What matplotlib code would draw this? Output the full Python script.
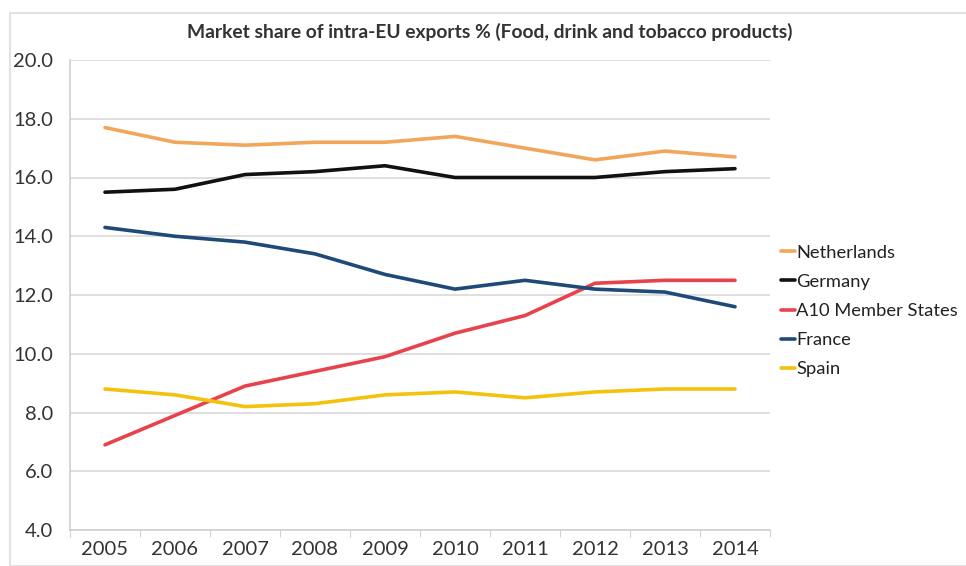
import numpy as np
import matplotlib.pyplot as plt
from matplotlib.patches import Rectangle

plt.rcParams['font.family'] = ['Lato', 'DejaVu Sans']

years = ['2005', '2006', '2007', '2008', '2009', '2010', '2011', '2012', '2013', '2014']
netherlands = [17.7, 17.2, 17.1, 17.2, 17.2, 17.4, 17.0, 16.6, 16.9, 16.7]
germany = [15.5, 15.6, 16.1, 16.2, 16.4, 16.0, 16.0, 16.0, 16.2, 16.3]
a10 = [6.9, 7.9, 8.9, 9.4, 9.9, 10.7, 11.3, 12.4, 12.5, 12.5]
france = [14.3, 14.0, 13.8, 13.4, 12.7, 12.2, 12.5, 12.2, 12.1, 11.6]
spain = [8.8, 8.6, 8.2, 8.3, 8.6, 8.7, 8.5, 8.7, 8.8, 8.8]

series = [
    ('Netherlands', netherlands, '#f2a65a'),
    ('Germany', germany, '#111111'),
    ('A10 Member States', a10, '#e8434c'),
    ('France', france, '#1f4a78'),
    ('Spain', spain, '#f4c20d'),
]

fig = plt.figure(figsize=(9.66, 5.66), dpi=100)
ax = fig.add_axes([70/966, 1 - 530/566, 700/966, 470/566])

x = np.arange(len(years))
for name, vals, col in series:
    ax.plot(x, vals, color=col, lw=2.6, label=name, solid_capstyle='round')

ax.set_xlim(-0.5, len(years) - 0.5)
ax.set_ylim(4, 20)
ax.set_yticks(np.arange(4, 20.1, 2))
ax.set_yticklabels(['%.1f' % v for v in np.arange(4, 20.1, 2)])
ax.set_xticks(x)
ax.set_xticklabels(years)
ax.set_xticks(np.arange(-0.5, len(years)), minor=True)
ax.tick_params(axis='x', which='major', length=0, pad=8, labelsize=14.5, colors='#333333')
ax.tick_params(axis='x', which='minor', length=5, color='#c8c8c8')
ax.tick_params(axis='y', length=0, pad=12, labelsize=14.5, colors='#333333')
ax.grid(axis='y', color='#d9d9d9', lw=1.2)
ax.set_axisbelow(True)
for s in ['top', 'right']:
    ax.spines[s].set_visible(False)
ax.spines['left'].set_color('#d0d0d0')
ax.spines['bottom'].set_color('#d0d0d0')
ax.spines['left'].set_linewidth(1.2)
ax.spines['bottom'].set_linewidth(1.2)

fig.text(490/966, 1 - 32/566, 'Market share of intra-EU exports % (Food, drink and tobacco products)',
         ha='center', va='center', fontsize=13.9, fontweight='bold', color='#333333')

fig.legend(loc='center left', bbox_to_anchor=(764/966, 1 - 311/566), frameon=False,
           fontsize=13.2, handlelength=0.8, handletextpad=0.05, labelspacing=0.72,
           labelcolor='#222222')

fig.patches.append(Rectangle((10/966, 0), 1, 1 - 13/566, transform=fig.transFigure,
                             fill=False, edgecolor='#dddddd', lw=1.2))

fig.savefig('out.png', dpi=100)
